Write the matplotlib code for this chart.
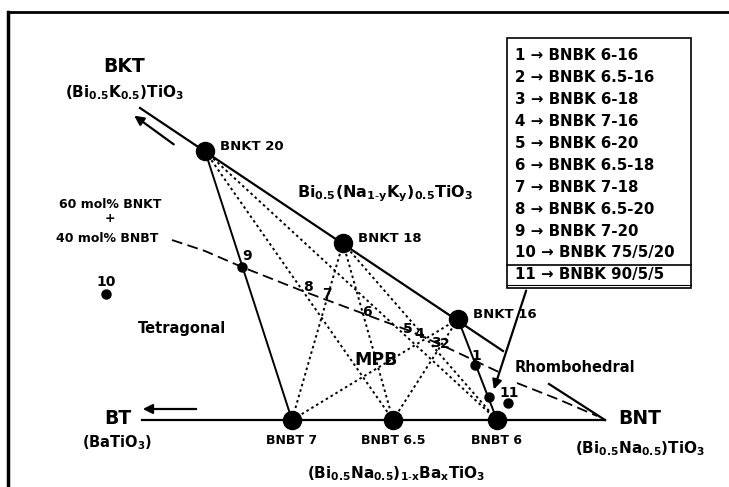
import matplotlib.pyplot as plt
from matplotlib.patches import Rectangle

plt.rcParams['mathtext.fontset'] = 'dejavusans'
plt.rcParams['mathtext.default'] = 'bf'

# end members and compositions (image pixel frame)
bnkt_names = ['BNKT 20', 'BNKT 18', 'BNKT 16']
bnkt_x = [205, 343, 458]
bnkt_y = [151, 243, 319]
bnbt_names = ['BNBT 7', 'BNBT 6.5', 'BNBT 6']
bnbt_x = [292, 393, 497]
bnbt_y = [420, 420, 420]
solid_ties = [(0, 0), (2, 2)]

# 60 mol% BNKT + 40 mol% BNBT line
mix_x = [172, 205, 242, 300, 367, 410, 450, 503]
mix_y = [240, 251, 267, 290, 315, 331, 349, 374]
mix2_x = [517, 560, 597]
mix2_y = [383, 400, 416]

# numbered compositions
num_labels = ['9', '8', '7', '6', '5', '4', '3', '2', '1', '11', '10']
num_x = [247, 308, 327, 367, 408, 419, 436, 445, 476, 509, 106]
num_y = [256, 287, 294, 312, 329, 334, 343, 344, 356, 393, 282]
dot_x = [242, 475, 489, 508, 106]
dot_y = [267, 365, 397, 403, 294]

legend_items = ['1 \u2192 BNBK 6-16', '2 \u2192 BNBK 6.5-16', '3 \u2192 BNBK 6-18',
                '4 \u2192 BNBK 7-16', '5 \u2192 BNBK 6-20', '6 \u2192 BNBK 6.5-18',
                '7 \u2192 BNBK 7-18', '8 \u2192 BNBK 6.5-20', '9 \u2192 BNBK 7-20',
                '10 \u2192 BNBK 75/5/20', '11 \u2192 BNBK 90/5/5']

fig = plt.figure(figsize=(7.29, 4.87), dpi=100)
ax = fig.add_axes([0, 0, 1, 1])
ax.set_xlim(0, 729)
ax.set_ylim(487, 0)
ax.axis('off')

# frame
ax.plot([8, 729], [12, 12], color='k', lw=2)
ax.plot([8, 8], [12, 487], color='k', lw=2.5)

# triangle edges
ax.plot([142, 605], [420, 420], color='k', lw=1.6)
ax.plot([140, 503], [108, 351], color='k', lw=1.6)
ax.plot([549, 605], [384, 420], color='k', lw=1.6)

# tie lines
for i in range(3):
    for j in range(3):
        if (i, j) in solid_ties:
            ax.plot([bnkt_x[i], bnbt_x[j]], [bnkt_y[i], bnbt_y[j]], color='k', lw=1.4)
        else:
            ax.plot([bnkt_x[i], bnbt_x[j]], [bnkt_y[i], bnbt_y[j]], color='k', lw=1.4,
                    ls=(0, (1.3, 1.6)))

ax.plot(mix_x, mix_y, color='k', lw=1.3, ls=(0, (6, 3)))
ax.plot(mix2_x, mix2_y, color='k', lw=1.3, ls=(0, (6, 3)))

ax.plot(bnkt_x, bnkt_y, 'o', color='k', ms=13)
ax.plot(bnbt_x, bnbt_y, 'o', color='k', ms=13)
ax.plot(dot_x, dot_y, 'o', color='k', ms=6.5)

for t, x, y in zip(num_labels, num_x, num_y):
    ax.text(x, y, t, fontsize=10, fontweight='bold', ha='center', va='center')

for t, x, y in zip(bnkt_names, bnkt_x, bnkt_y):
    ax.text(x + 15, y - 5, t, fontsize=9.5, fontweight='bold', ha='left', va='center')
for t, x, y in zip(bnbt_names, bnbt_x, bnbt_y):
    ax.text(x, y + 21, t, fontsize=9, fontweight='bold', ha='center', va='center')

# arrows
arrow = dict(arrowstyle='-|>', color='k', lw=1.6, mutation_scale=14)
ax.annotate('', xy=(132, 114), xytext=(176, 146), arrowprops=arrow)
ax.annotate('', xy=(140, 409), xytext=(199, 409), arrowprops=arrow)
ax.annotate('', xy=(493, 392), xytext=(527, 288), arrowprops=arrow)

# labels
bold = dict(fontweight='bold', ha='center', va='center')
ax.text(124, 67, 'BKT', fontsize=13.5, **bold)
ax.text(124, 93, r'$(Bi_{0.5}K_{0.5})TiO_3$', fontsize=11, **bold)
ax.text(385, 194, r'$Bi_{0.5}(Na_{1\text{-}y}K_y)_{0.5}TiO_3$', fontsize=11.5, **bold)
ax.text(110, 204, '60 mol% BNKT', fontsize=9, **bold)
ax.text(110, 218, '+', fontsize=9, **bold)
ax.text(107, 238, '40 mol% BNBT', fontsize=9, **bold)
ax.text(182, 329, 'Tetragonal', fontsize=10.5, **bold)
ax.text(376, 360, 'MPB', fontsize=12.5, **bold)
ax.text(575, 368, 'Rhombohedral', fontsize=10.5, **bold)
ax.text(118, 419, 'BT', fontsize=13.5, **bold)
ax.text(117, 443, r'$(BaTiO_3)$', fontsize=10.5, **bold)
ax.text(640, 418, 'BNT', fontsize=13.5, **bold)
ax.text(640, 449, r'$(Bi_{0.5}Na_{0.5})TiO_3$', fontsize=11, **bold)
ax.text(396, 474, r'$(Bi_{0.5}Na_{0.5})_{1\text{-}x}Ba_xTiO_3$', fontsize=11, **bold)

# legend box
ax.add_patch(Rectangle((507, 38), 184, 250, fill=False, ec='k', lw=1.2))
ax.plot([507, 691], [265, 265], color='k', lw=1.2)
ax.plot([507, 691], [285, 285], color='k', lw=0.8)
for k, t in enumerate(legend_items):
    ax.text(515, 55 + k * 22, t, fontsize=10.8, fontweight='bold', ha='left', va='center')

fig.savefig('out.png', dpi=100)
